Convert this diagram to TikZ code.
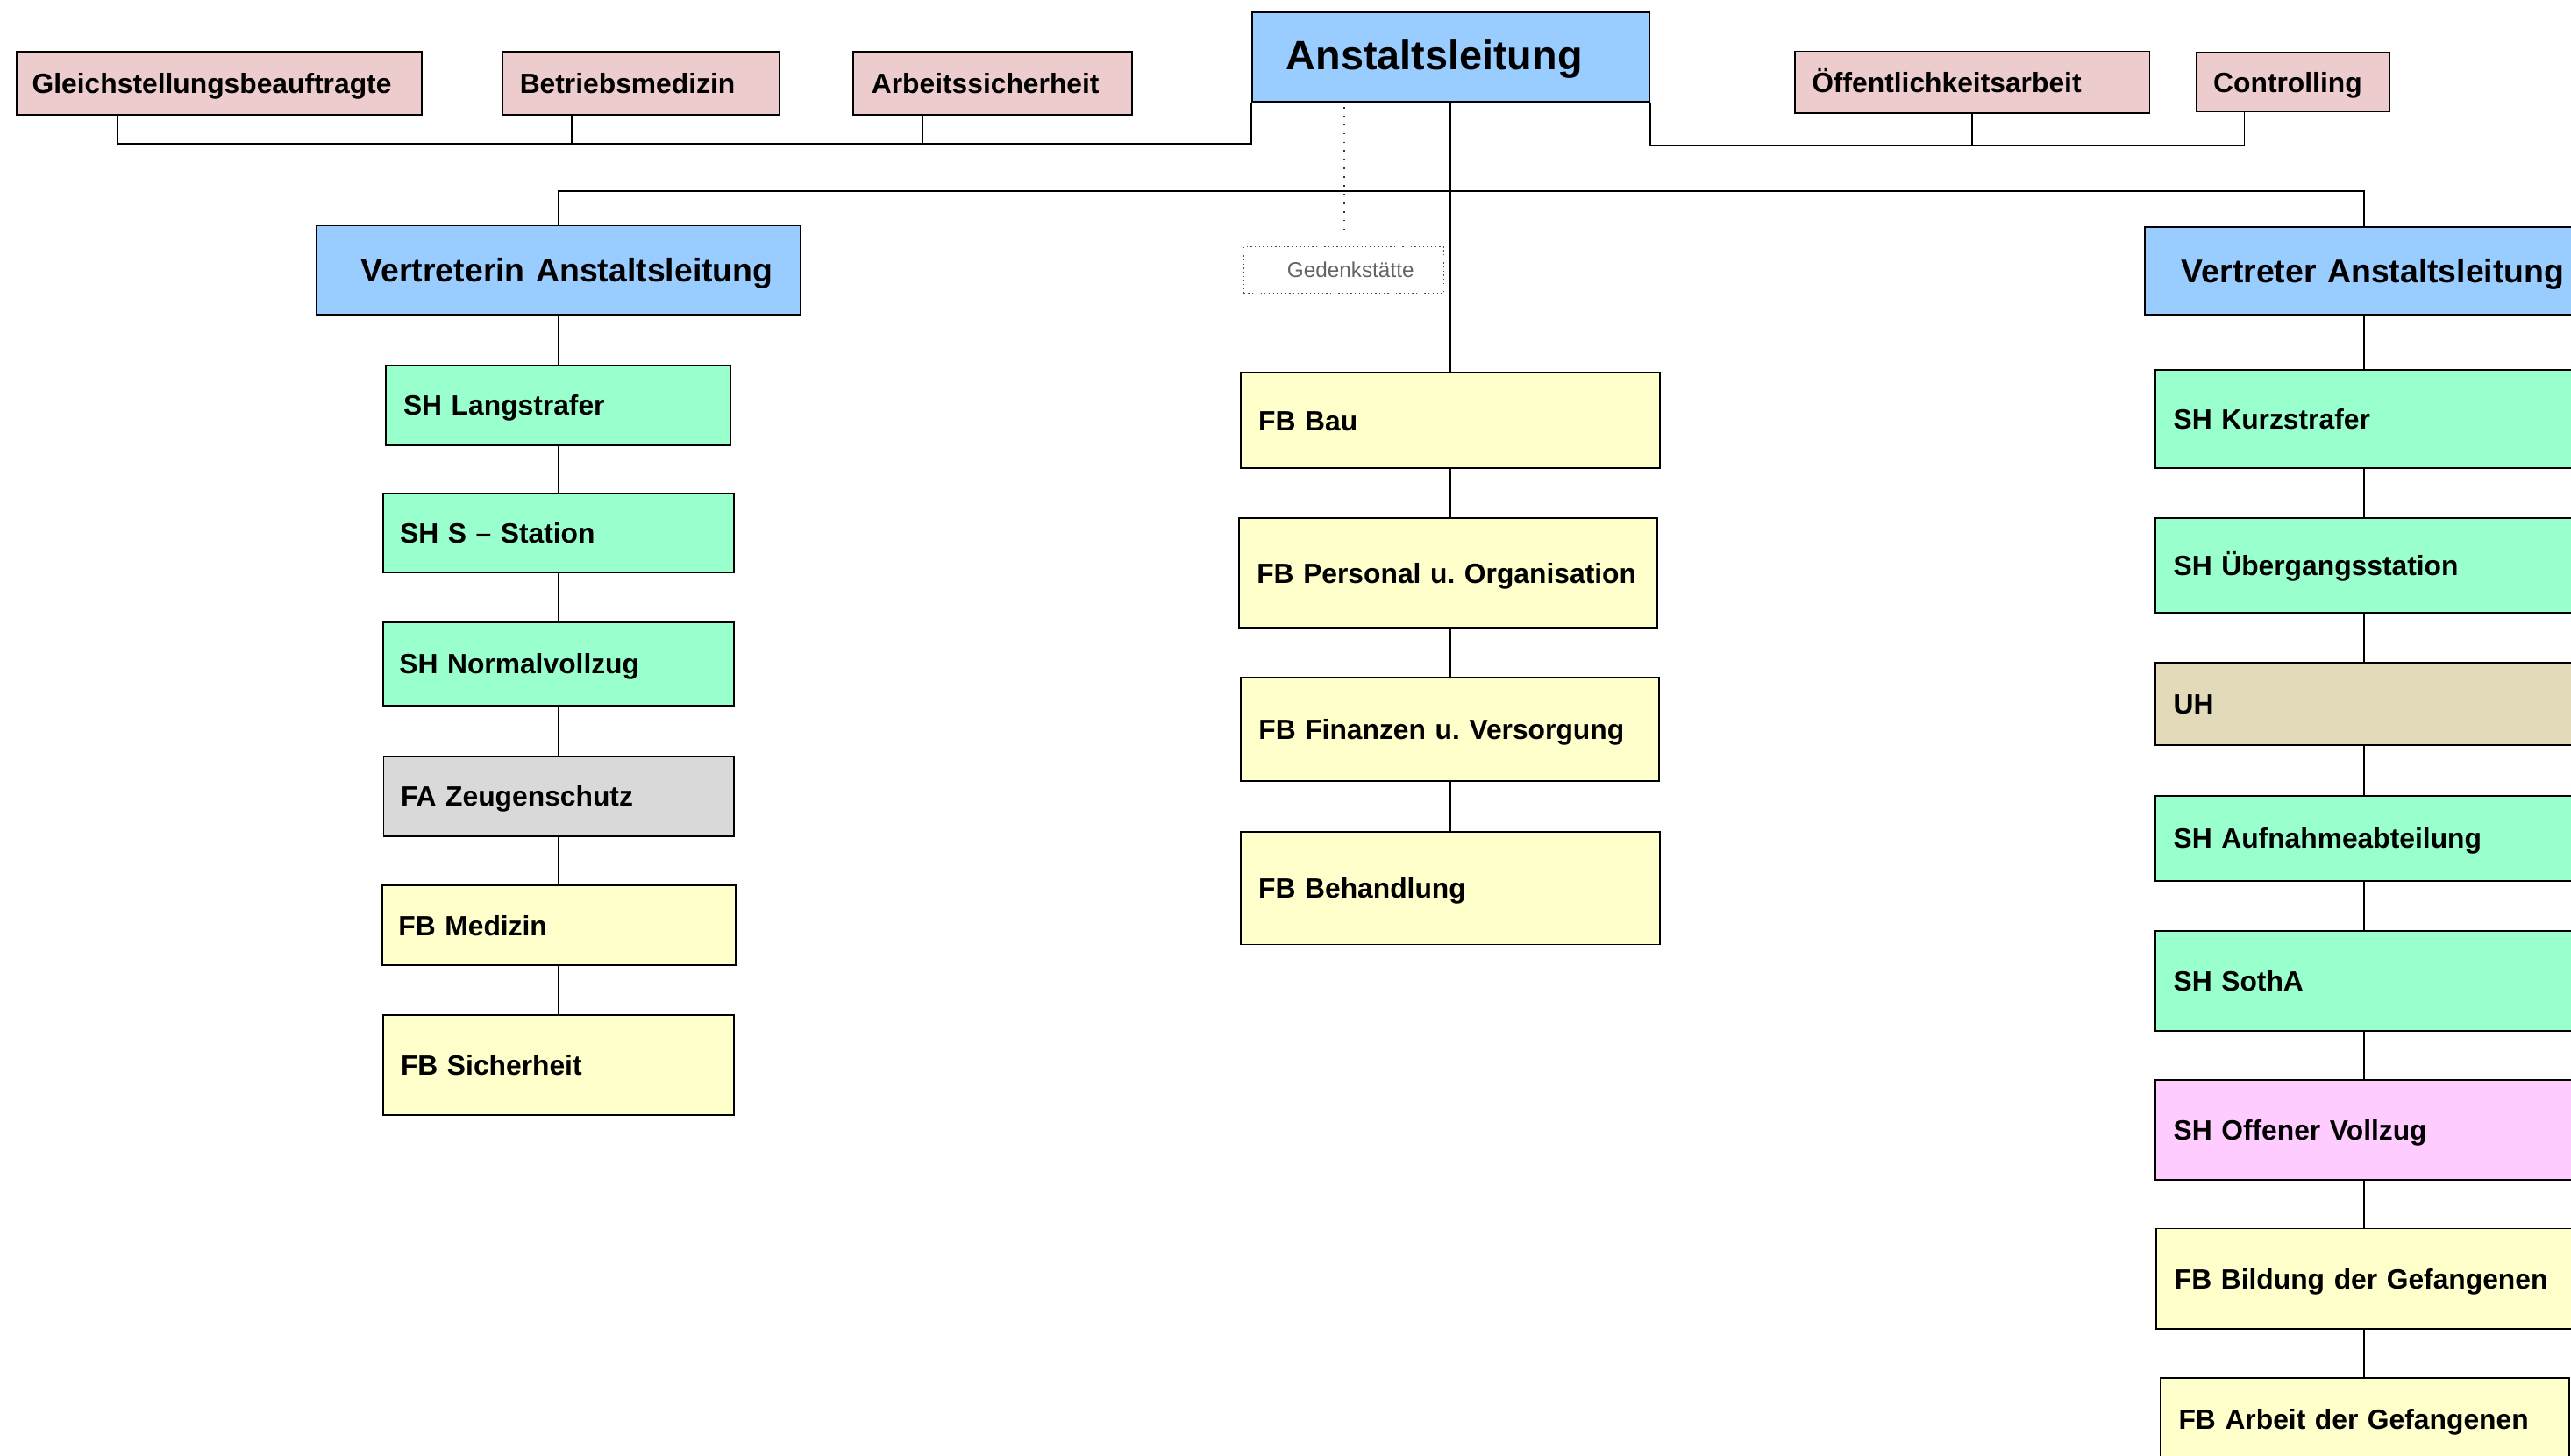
\documentclass[tikz,border=0pt]{standalone}
\usepackage{fontspec}
\setmainfont{Liberation Sans}
\usetikzlibrary{calc}
\definecolor{cpink}{RGB}{236,204,204}
\definecolor{cblue}{RGB}{153,204,255}
\definecolor{cgreen}{RGB}{153,255,204}
\definecolor{cyellow}{RGB}{255,255,204}
\definecolor{cgray}{RGB}{217,217,217}
\definecolor{ctan}{RGB}{226,218,184}
\definecolor{cmag}{RGB}{255,204,255}
\definecolor{ctext}{RGB}{100,100,100}
\newcommand\orgbox[8]{%
  \pgfmathsetmacro\obw{#5-#3}%
  \pgfmathsetmacro\obh{#6-#4}%
  \pgfmathsetmacro\otw{#5-#3-2*#7}%
  \node[box,#2,inner xsep=#7pt,text width=\otw pt,minimum width=\obw pt,minimum height=\obh pt] (#1) at (#3,#4) {\frenchspacing\mbox{#8}};%
}
\begin{document}
\begin{tikzpicture}[x=1pt,y=-1pt,
  box/.style={draw=black, line width=1pt, rectangle, anchor=north west, inner ysep=0pt, align=left,
    font=\fontsize{17}{20}\selectfont\bfseries, text height=14pt, text depth=1.8pt},
  titlefont/.style={font=\fontsize{25}{28}\selectfont\bfseries, text height=18pt, text depth=2.7pt},
  headfont/.style={font=\fontsize{20}{24}\selectfont\bfseries, text height=16pt, text depth=1.7pt},
  notebox/.style={draw=black!70, line width=0.7pt, dash pattern=on 0.7pt off 1.8pt, fill=white,
    align=center, text=ctext, font=\fontsize{13}{15}\selectfont, text height=10.8pt, text depth=1.6pt},
  conn/.style={line width=1pt, draw=black},
  dotline/.style={line width=0.9pt, draw=black!80, dash pattern=on 0.9pt off 4.4pt},
 ]
\clip (0,0) rectangle (1568,888);
\fill[white] (0,0) rectangle (1568,888);

% top row
\orgbox{gleich}{fill=cpink}{9.6}{31}{256.5}{69.5}{9.5}{Gleichstellungsbeauftragte}
\orgbox{betr}{fill=cpink}{306}{31}{475}{69.5}{10.5}{Betriebsmedizin}
\orgbox{arb}{fill=cpink}{520}{31}{690}{69.5}{11}{Arbeitssicherheit}
\orgbox{anst}{fill=cblue,titlefont}{763}{7.1}{1005.4}{61.5}{21}{Anstaltsleitung}
\orgbox{oeff}{fill=cpink}{1094}{30.8}{1310.5}{68.6}{10.5}{Öffentlichkeitsarbeit}
\orgbox{contr}{fill=cpink}{1339}{31.6}{1457}{67.7}{10.4}{Controlling}

% second level
\orgbox{vin}{fill=cblue,headfont}{192.5}{137.2}{487.8}{191.6}{27.2}{Vertreterin Anstaltsleitung}
\orgbox{vter}{fill=cblue,headfont}{1307.4}{137.8}{1575.6}{191.6}{22.6}{Vertreter Anstaltsleitung}
\node[notebox, anchor=north west, minimum width=121.9pt, minimum height=28.4pt, inner sep=0pt] (gedenk) at (758.4,150.2) {\hspace{8pt}Gedenkstätte};

% left column
\orgbox{lang}{fill=cgreen}{235}{222.3}{445.2}{271}{10.5}{SH Langstrafer}
\orgbox{ssta}{fill=cgreen}{233.4}{300.4}{446.9}{349}{10}{SH S -- Station}
\orgbox{normal}{fill=cgreen}{233}{379}{447}{430}{10}{SH Normalvollzug}
\orgbox{zeugen}{fill=cgray}{233.5}{460.8}{446.9}{509.5}{10.4}{FA Zeugenschutz}
\orgbox{medizin}{fill=cyellow}{232.5}{539.8}{448}{588.3}{10}{FB Medizin}
\orgbox{sicher}{fill=cyellow}{233.2}{618.6}{447.1}{679.6}{10.7}{FB Sicherheit}

% centre column
\orgbox{bau}{fill=cyellow}{756}{227}{1012}{285}{11}{FB Bau}
\orgbox{pers}{fill=cyellow}{755.2}{315.7}{1010.1}{382.4}{10.8}{FB Personal u. Organisation}
\orgbox{fin}{fill=cyellow}{756.1}{412.8}{1011.5}{476}{11}{FB Finanzen u. Versorgung}
\orgbox{beh}{fill=cyellow}{756}{506.8}{1012}{575.7}{11}{FB Behandlung}

% right column
\orgbox{kurz}{fill=cgreen}{1314}{225.4}{1569}{285.1}{11}{SH Kurzstrafer}
\orgbox{ueber}{fill=cgreen}{1314}{315.4}{1569}{373.4}{11}{SH Übergangsstation}
\orgbox{uh}{fill=ctan}{1314}{403.8}{1569}{453.9}{11}{UH}
\orgbox{aufn}{fill=cgreen}{1314}{485}{1569}{537}{11}{SH Aufnahmeabteilung}
\orgbox{sotha}{fill=cgreen}{1314}{567.3}{1569}{628.2}{11}{SH SothA}
\orgbox{offen}{fill=cmag}{1314}{658.4}{1569}{719.3}{11}{SH Offener Vollzug}
\orgbox{bildung}{fill=cyellow}{1314.7}{749}{1568.3}{810.1}{11}{FB Bildung der Gefangenen}
\orgbox{arbeit}{fill=cyellow}{1317.2}{840.1}{1566.2}{891}{11}{FB Arbeit der Gefangenen}

% bus coordinates
\coordinate (lbus) at (0,87.7);
\coordinate (rbus) at (0,88.6);
\coordinate (mbus) at (0,116.8);
\coordinate (gleichq) at ($(gleich.south west)!0.25!(gleich.south east)$);
\coordinate (betrq) at ($(betr.south west)!0.25!(betr.south east)$);
\coordinate (arbq) at ($(arb.south west)!0.25!(arb.south east)$);
\coordinate (contrq) at ($(contr.south west)!0.25!(contr.south east)$);

% staff connectors
\draw[conn] (anst.south west) -- (anst.south west |- lbus) -- (gleichq |- lbus) -- (gleichq);
\draw[conn] (betrq) -- (betrq |- lbus);
\draw[conn] (arbq) -- (arbq |- lbus);
\draw[conn] (anst.south east) -- (anst.south east |- rbus) -- (contrq |- rbus) -- (contrq);
\draw[conn] (oeff.south) -- (oeff.south |- rbus);

% main line and bus
\draw[conn] (bau.north |- anst.south) -- (bau.north);
\draw[conn] (vin.north) -- (vin.north |- mbus) -- (vter.north |- mbus) -- (vter.north);
\draw[dotline] ($(gedenk.north |- anst.south)+(0,2.7)$) -- ($(gedenk.north)+(0,-9.2)$);

% left chain
\draw[conn] (vin.south) -- (vin.south |- lang.north);
\draw[conn] (lang.south) -- (lang.south |- ssta.north);
\draw[conn] (ssta.south) -- (ssta.south |- normal.north);
\draw[conn] (normal.south) -- (normal.south |- zeugen.north);
\draw[conn] (zeugen.south) -- (zeugen.south |- medizin.north);
\draw[conn] (medizin.south) -- (medizin.south |- sicher.north);

% centre chain
\draw[conn] (bau.south) -- (bau.south |- pers.north);
\draw[conn] (bau.south |- pers.south) -- (bau.south |- fin.north);
\draw[conn] (bau.south |- fin.south) -- (bau.south |- beh.north);

% right chain
\draw[conn] (vter.south) -- (vter.south |- kurz.north);
\draw[conn] (kurz.south) -- (kurz.south |- ueber.north);
\draw[conn] (ueber.south) -- (ueber.south |- uh.north);
\draw[conn] (uh.south) -- (uh.south |- aufn.north);
\draw[conn] (aufn.south) -- (aufn.south |- sotha.north);
\draw[conn] (sotha.south) -- (sotha.south |- offen.north);
\draw[conn] (offen.south) -- (offen.south |- bildung.north);
\draw[conn] (bildung.south) -- (bildung.south |- arbeit.north);
\end{tikzpicture}
\end{document}
